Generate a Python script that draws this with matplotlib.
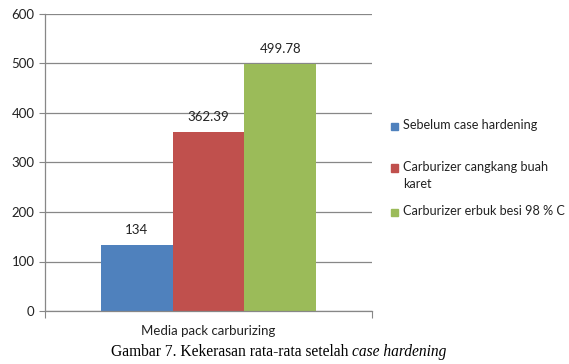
import numpy as np
import matplotlib.pyplot as plt
from matplotlib.patches import Rectangle

plt.rcParams['font.family'] = ['Lato', 'DejaVu Sans']

category = 'Media pack carburizing'
series = ['Sebelum case hardening', 'Carburizer cangkang buah\nkaret',
          'Carburizer erbuk besi 98 % C']
values = [134, 362.39, 499.78]
value_labels = ['134', '362.39', '499.78']
colors = ['#4F81BD', '#C0504D', '#9BBB59']

W, H = 569, 364
fig = plt.figure(figsize=(W / 100, H / 100), dpi=100)
ax = fig.add_axes([45 / W, 1 - 311 / H, (372 - 45) / W, (311 - 14) / H])

bw = 0.22
x = np.arange(len(values)) * bw - bw
for xi, v, c, lab in zip(x, values, colors, value_labels):
    ax.bar(xi, v, width=bw, color=c, zorder=2)
    ax.text(xi, v + 18, lab, ha='center', va='bottom', fontsize=9.5, color='#222222')

ax.set_xlim(-0.5, 0.5)
ax.set_ylim(0, 600)
ax.set_yticks(range(0, 601, 100))
ax.set_xticks([-0.5, 0.5])
ax.set_xticklabels([])
ax.tick_params(axis='y', length=4, color='#878787', labelsize=9.5, labelcolor='#222222')
ax.tick_params(axis='x', length=5, color='#878787')
ax.grid(axis='y', color='#878787', linewidth=0.9, zorder=0)
for s in ['top', 'right']:
    ax.spines[s].set_visible(False)
for s in ['left', 'bottom']:
    ax.spines[s].set_color('#878787')
    ax.spines[s].set_linewidth(0.9)

fig.text(208 / W, 1 - 331 / H, category, ha='center', va='center', fontsize=9.5, color='#222222')

# legend drawn by hand to keep the uneven spacing
leg_y = [126, 168, 212]
for yy, lab, c in zip(leg_y, series, colors):
    fig.patches.append(Rectangle((391 / W, 1 - (yy + 3.5) / H), 7 / W, 7 / H,
                                 transform=fig.transFigure, color=c, figure=fig))
    fig.text(403 / W, 1 - (yy - 7) / H, lab, ha='left', va='top', fontsize=9.1,
             color='#222222', linespacing=1.5)

# caption: upright part followed by italic part
cap = fig.text(111 / W, 1 - 352 / H, 'Gambar 7. Kekerasan rata-rata setelah ', ha='left',
               va='center', fontsize=11.2, family='Liberation Serif')
r = fig.canvas.get_renderer()
bb = cap.get_window_extent(r)
fig.text(bb.x1 / W, 1 - 352 / H, 'case hardening', ha='left', va='center', fontsize=11.2,
         family='Liberation Serif', style='italic')

fig.savefig('out.png', dpi=100)
